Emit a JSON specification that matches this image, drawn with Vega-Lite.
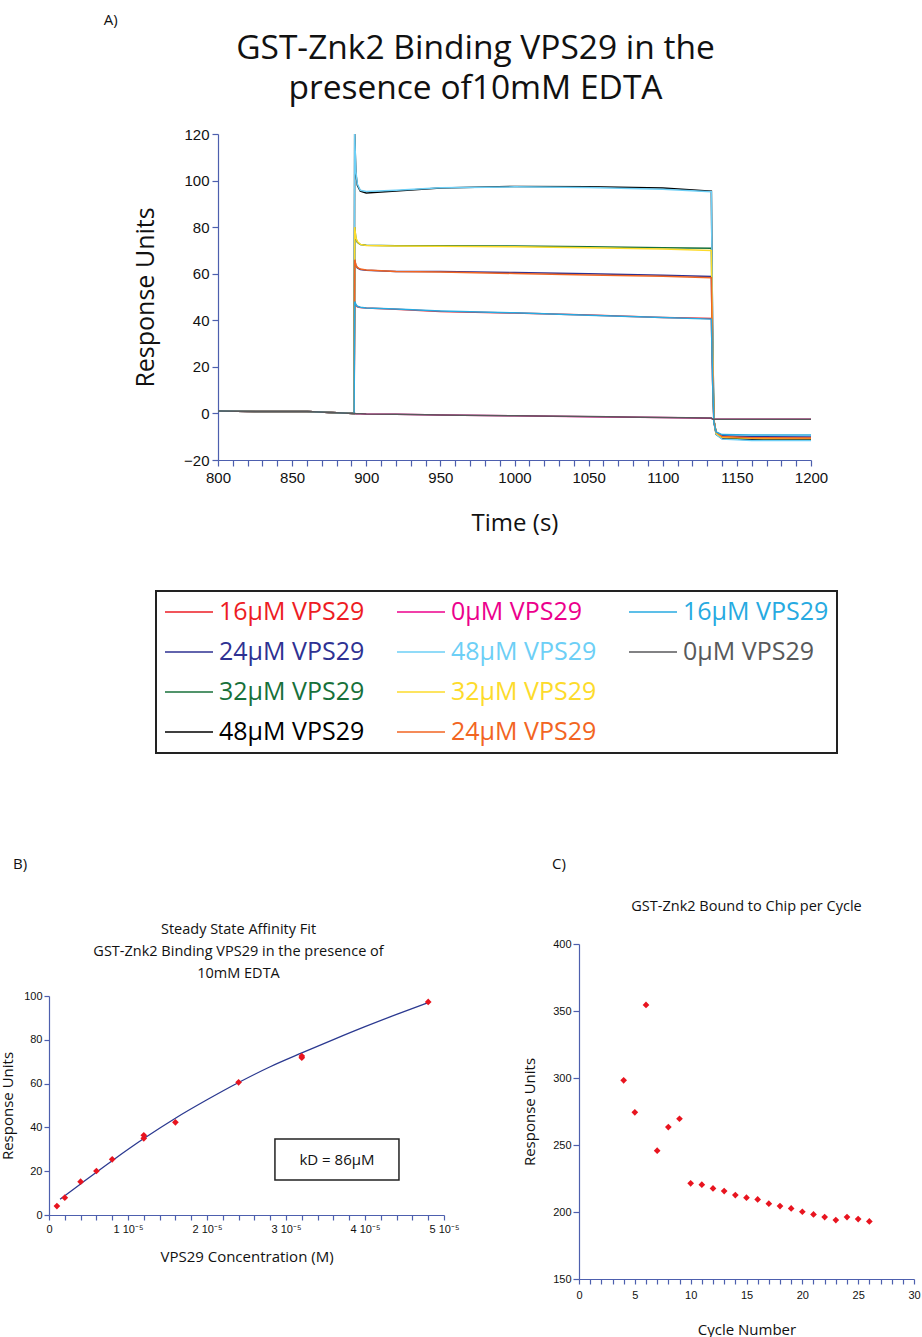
{
  "$schema": "https://vega.github.io/schema/vega-lite/v6.json",
  "padding": {"left": 0, "top": 12, "right": 0, "bottom": 0},
  "config": {
    "view": {"stroke": null},
    "font": "Open Sans",
    "axis": {"domainColor": "#4d5fae", "tickColor": "#4d5fae", "grid": false, "labelFont": "Liberation Sans", "labelColor": "#111", "titleFont": "Open Sans", "titleFontWeight": "normal", "titleColor": "#111", "domainWidth": 1.2, "tickWidth": 1.2, "labelFlush": false, "labelOverlap": false, "labelBound": false},
    "title": {"font": "Open Sans", "fontWeight": "normal", "color": "#111"}
  },
  "title": {"text": "A)", "anchor": "start", "frame": "bounds", "dx": 103, "fontSize": 15, "offset": 4},
  "datasets": {
    "sensor": [
      {"s":"a16","t":800,"v":1},{"s":"a16","t":830,"v":0.8},{"s":"a16","t":860,"v":0.8},{"s":"a16","t":880,"v":0.3},{"s":"a16","t":891.8,"v":0},{"s":"a16","t":892.2,"v":48},{"s":"a16","t":893,"v":46.5},{"s":"a16","t":894,"v":45.8},{"s":"a16","t":896,"v":45.5},{"s":"a16","t":900,"v":45.3},{"s":"a16","t":920,"v":44.7},{"s":"a16","t":950,"v":43.8},{"s":"a16","t":1000,"v":43.1},{"s":"a16","t":1050,"v":42.3},{"s":"a16","t":1100,"v":41.2},{"s":"a16","t":1132.8,"v":40.8},{"s":"a16","t":1133.6,"v":14},{"s":"a16","t":1134.5,"v":-4},{"s":"a16","t":1136,"v":-8.5},{"s":"a16","t":1140,"v":-10},{"s":"a16","t":1160,"v":-10.5},{"s":"a16","t":1200,"v":-10.6},
      {"s":"b24","t":800,"v":1},{"s":"b24","t":830,"v":0.8},{"s":"b24","t":860,"v":0.8},{"s":"b24","t":880,"v":0.3},{"s":"b24","t":891.8,"v":0},{"s":"b24","t":892.2,"v":66},{"s":"b24","t":893,"v":63.5},{"s":"b24","t":894,"v":62.5},{"s":"b24","t":896,"v":61.8},{"s":"b24","t":900,"v":61.5},{"s":"b24","t":920,"v":61},{"s":"b24","t":950,"v":60.9},{"s":"b24","t":1000,"v":60.5},{"s":"b24","t":1050,"v":60},{"s":"b24","t":1100,"v":59.3},{"s":"b24","t":1132.8,"v":58.8},{"s":"b24","t":1133.6,"v":22},{"s":"b24","t":1134.5,"v":-3},{"s":"b24","t":1136,"v":-8},{"s":"b24","t":1140,"v":-9.6},{"s":"b24","t":1160,"v":-10},{"s":"b24","t":1200,"v":-10.1},
      {"s":"c32","t":800,"v":1},{"s":"c32","t":830,"v":0.8},{"s":"c32","t":860,"v":0.8},{"s":"c32","t":880,"v":0.3},{"s":"c32","t":891.8,"v":0},{"s":"c32","t":892.2,"v":80},{"s":"c32","t":893,"v":75},{"s":"c32","t":894,"v":73.5},{"s":"c32","t":896,"v":72.5},{"s":"c32","t":900,"v":72.2},{"s":"c32","t":920,"v":72},{"s":"c32","t":950,"v":72},{"s":"c32","t":1000,"v":71.9},{"s":"c32","t":1050,"v":71.6},{"s":"c32","t":1100,"v":71.2},{"s":"c32","t":1132.8,"v":70.9},{"s":"c32","t":1133.6,"v":27},{"s":"c32","t":1134.5,"v":-3},{"s":"c32","t":1136,"v":-8.5},{"s":"c32","t":1140,"v":-10.4},{"s":"c32","t":1160,"v":-10.9},{"s":"c32","t":1200,"v":-11},
      {"s":"d48","t":800,"v":1},{"s":"d48","t":830,"v":0.8},{"s":"d48","t":860,"v":0.8},{"s":"d48","t":880,"v":0.3},{"s":"d48","t":891.8,"v":0},{"s":"d48","t":892.2,"v":120},{"s":"d48","t":893,"v":103},{"s":"d48","t":894,"v":98},{"s":"d48","t":896,"v":95.5},{"s":"d48","t":900,"v":94.7},{"s":"d48","t":920,"v":95.5},{"s":"d48","t":950,"v":96.8},{"s":"d48","t":1000,"v":97.5},{"s":"d48","t":1050,"v":97.4},{"s":"d48","t":1100,"v":96.8},{"s":"d48","t":1132.8,"v":95.4},{"s":"d48","t":1133.6,"v":38},{"s":"d48","t":1134.5,"v":-3},{"s":"d48","t":1136,"v":-9},{"s":"d48","t":1140,"v":-10.8},{"s":"d48","t":1160,"v":-11.3},{"s":"d48","t":1200,"v":-11.3},
      {"s":"e0","t":800,"v":1},{"s":"e0","t":830,"v":0.8},{"s":"e0","t":860,"v":0.8},{"s":"e0","t":880,"v":0.3},{"s":"e0","t":891.8,"v":0},{"s":"e0","t":892.2,"v":0},{"s":"e0","t":893,"v":-0.1},{"s":"e0","t":894,"v":-0.1},{"s":"e0","t":896,"v":-0.1},{"s":"e0","t":900,"v":-0.2},{"s":"e0","t":920,"v":-0.4},{"s":"e0","t":950,"v":-0.7},{"s":"e0","t":1000,"v":-1},{"s":"e0","t":1050,"v":-1.4},{"s":"e0","t":1100,"v":-1.8},{"s":"e0","t":1132.8,"v":-2.1},{"s":"e0","t":1133.6,"v":-2.4},{"s":"e0","t":1134.5,"v":-2.5},{"s":"e0","t":1136,"v":-2.5},{"s":"e0","t":1140,"v":-2.5},{"s":"e0","t":1160,"v":-2.5},{"s":"e0","t":1200,"v":-2.5},
      {"s":"f48","t":800,"v":1},{"s":"f48","t":830,"v":0.8},{"s":"f48","t":860,"v":0.8},{"s":"f48","t":880,"v":0.3},{"s":"f48","t":891.8,"v":0},{"s":"f48","t":892.2,"v":120},{"s":"f48","t":893,"v":104},{"s":"f48","t":894,"v":98.5},{"s":"f48","t":896,"v":95.8},{"s":"f48","t":900,"v":95.3},{"s":"f48","t":920,"v":95.8},{"s":"f48","t":950,"v":96.9},{"s":"f48","t":1000,"v":97.3},{"s":"f48","t":1050,"v":97},{"s":"f48","t":1100,"v":96.3},{"s":"f48","t":1132.8,"v":95.2},{"s":"f48","t":1133.6,"v":38},{"s":"f48","t":1134.5,"v":-3},{"s":"f48","t":1136,"v":-9},{"s":"f48","t":1140,"v":-11},{"s":"f48","t":1160,"v":-11.6},{"s":"f48","t":1200,"v":-11.6},
      {"s":"g32","t":800,"v":1},{"s":"g32","t":830,"v":0.8},{"s":"g32","t":860,"v":0.8},{"s":"g32","t":880,"v":0.3},{"s":"g32","t":891.8,"v":0},{"s":"g32","t":892.2,"v":80},{"s":"g32","t":893,"v":75.5},{"s":"g32","t":894,"v":73.8},{"s":"g32","t":896,"v":72.6},{"s":"g32","t":900,"v":72.1},{"s":"g32","t":920,"v":71.9},{"s":"g32","t":950,"v":71.8},{"s":"g32","t":1000,"v":71.6},{"s":"g32","t":1050,"v":71.2},{"s":"g32","t":1100,"v":70.6},{"s":"g32","t":1132.8,"v":70},{"s":"g32","t":1133.6,"v":27},{"s":"g32","t":1134.5,"v":-3},{"s":"g32","t":1136,"v":-8.5},{"s":"g32","t":1140,"v":-10.2},{"s":"g32","t":1160,"v":-10.7},{"s":"g32","t":1200,"v":-10.8},
      {"s":"h24","t":800,"v":1},{"s":"h24","t":830,"v":0.8},{"s":"h24","t":860,"v":0.8},{"s":"h24","t":880,"v":0.3},{"s":"h24","t":891.8,"v":0},{"s":"h24","t":892.2,"v":66},{"s":"h24","t":893,"v":63.8},{"s":"h24","t":894,"v":62.7},{"s":"h24","t":896,"v":62},{"s":"h24","t":900,"v":61.6},{"s":"h24","t":920,"v":61},{"s":"h24","t":950,"v":60.7},{"s":"h24","t":1000,"v":60.1},{"s":"h24","t":1050,"v":59.5},{"s":"h24","t":1100,"v":58.9},{"s":"h24","t":1132.8,"v":58.3},{"s":"h24","t":1133.6,"v":22},{"s":"h24","t":1134.5,"v":-3},{"s":"h24","t":1136,"v":-8},{"s":"h24","t":1140,"v":-9.9},{"s":"h24","t":1160,"v":-10.4},{"s":"h24","t":1200,"v":-10.5},
      {"s":"i16","t":800,"v":1},{"s":"i16","t":830,"v":0.8},{"s":"i16","t":860,"v":0.8},{"s":"i16","t":880,"v":0.3},{"s":"i16","t":891.8,"v":0},{"s":"i16","t":892.2,"v":48},{"s":"i16","t":893,"v":46.8},{"s":"i16","t":894,"v":46},{"s":"i16","t":896,"v":45.6},{"s":"i16","t":900,"v":45.3},{"s":"i16","t":920,"v":44.8},{"s":"i16","t":950,"v":44},{"s":"i16","t":1000,"v":43.2},{"s":"i16","t":1050,"v":42.2},{"s":"i16","t":1100,"v":41.2},{"s":"i16","t":1132.8,"v":40.5},{"s":"i16","t":1133.6,"v":14},{"s":"i16","t":1134.5,"v":-4},{"s":"i16","t":1136,"v":-8},{"s":"i16","t":1140,"v":-9.1},{"s":"i16","t":1160,"v":-9.3},{"s":"i16","t":1200,"v":-9.3},
      {"s":"j0","t":800,"v":1},{"s":"j0","t":830,"v":0.8},{"s":"j0","t":860,"v":0.8},{"s":"j0","t":880,"v":0.3},{"s":"j0","t":891.8,"v":0},{"s":"j0","t":892.2,"v":0},{"s":"j0","t":893,"v":-0.1},{"s":"j0","t":894,"v":-0.1},{"s":"j0","t":896,"v":-0.1},{"s":"j0","t":900,"v":-0.2},{"s":"j0","t":920,"v":-0.4},{"s":"j0","t":950,"v":-0.7},{"s":"j0","t":1000,"v":-1},{"s":"j0","t":1050,"v":-1.3},{"s":"j0","t":1100,"v":-1.7},{"s":"j0","t":1132.8,"v":-2},{"s":"j0","t":1133.6,"v":-2.4},{"s":"j0","t":1134.5,"v":-2.5},{"s":"j0","t":1136,"v":-2.5},{"s":"j0","t":1140,"v":-2.5},{"s":"j0","t":1160,"v":-2.5},{"s":"j0","t":1200,"v":-2.5}
    ],
    "fit": [
      {"c_uM":1.4,"r":7.2},{"c_uM":4,"r":14.2},{"c_uM":8,"r":24.8},{"c_uM":12,"r":34.9},{"c_uM":16,"r":44.2},{"c_uM":20,"r":52.6},{"c_uM":24,"r":60.5},{"c_uM":28,"r":67.7},{"c_uM":32,"r":74},{"c_uM":36,"r":80.1},{"c_uM":40,"r":86},{"c_uM":44,"r":91.6},{"c_uM":48,"r":97}
    ],
    "pts": [
      {"c_uM":1,"r":4.1},{"c_uM":2,"r":7.9},{"c_uM":4,"r":15.2},{"c_uM":6,"r":20.1},{"c_uM":8,"r":25.4},{"c_uM":12,"r":35},{"c_uM":12,"r":36.4},{"c_uM":16,"r":42.3},{"c_uM":24,"r":60.6},{"c_uM":32,"r":71.8},{"c_uM":32,"r":72.6},{"c_uM":48,"r":97.3}
    ],
    "note": [
      {"c1":28.6,"c2":44.3,"r1":16,"r2":34.7,"cm":36.45,"rm":25.3,"label":"kD = 86µM"}
    ],
    "cycles": [
      {"n":4,"ru":298.3},{"n":5,"ru":274.4},{"n":6,"ru":354.5},{"n":7,"ru":245.8},{"n":8,"ru":263.4},{"n":9,"ru":269.6},{"n":10,"ru":221.4},{"n":11,"ru":220.4},{"n":12,"ru":217.6},{"n":13,"ru":215.6},{"n":14,"ru":212.6},{"n":15,"ru":210.7},{"n":16,"ru":209.4},{"n":17,"ru":206.2},{"n":18,"ru":204.4},{"n":19,"ru":202.7},{"n":20,"ru":200.2},{"n":21,"ru":198.2},{"n":22,"ru":196.2},{"n":23,"ru":194},{"n":24,"ru":196.2},{"n":25,"ru":194.7},{"n":26,"ru":193}
    ]
  },
  "spacing": 322,
  "vconcat": [
    {
      "spacing": 0,
      "hconcat": [
        {"width": 84, "height": 1, "data": {"values": []}, "mark": "point"},
        {
          "width": 593,
          "height": 326,
          "title": {"text": ["GST-Znk2 Binding VPS29 in the", "presence of10mM EDTA"], "fontSize": 33.5, "lineHeight": 40, "anchor": "middle", "frame": "group", "dx": -39, "offset": 21},
          "data": {"name": "sensor"},
          "mark": {"type": "line", "strokeWidth": 1.5, "clip": true},
          "encoding": {
            "x": {"field": "t", "type": "quantitative", "title": "Time (s)",
              "scale": {"domain": [800, 1200], "nice": false, "zero": false},
              "axis": {"values": [800,810,820,830,840,850,860,870,880,890,900,910,920,930,940,950,960,970,980,990,1000,1010,1020,1030,1040,1050,1060,1070,1080,1090,1100,1110,1120,1130,1140,1150,1160,1170,1180,1190,1200],
                "labelExpr": "datum.value % 50 == 0 ? datum.label : ''", "format": "d", "labelOverlap": false, "labelFontSize": 15, "tickSize": 6, "labelPadding": 4, "titleFontSize": 24, "titlePadding": 26}},
            "y": {"field": "v", "type": "quantitative", "title": "Response Units",
              "scale": {"domain": [-20, 120], "nice": false},
              "axis": {"values": [-20,0,20,40,60,80,100,120], "labelOverlap": false, "labelFontSize": 15, "tickSize": 6, "labelPadding": 3, "titleFontSize": 25, "titlePadding": 25}},
            "color": {"field": "s", "type": "nominal",
              "scale": {"domain": ["a16","b24","c32","d48","e0","f48","g32","h24","i16","j0","z1","z2"],
                        "range": ["#ed1c24","#2e3192","#17703a","#000000","#ec008c","#6dcff6","#fddb2b","#f26522","#27aae1","#58595b","transparent","transparent"]},
              "legend": {
                "orient": "none", "legendX": 107, "legendY": 457, "title": null, "columns": 3, "direction": "vertical",
                "symbolType": "M-1,0H3", "symbolSize": 576, "symbolStrokeWidth": 1.5,
                "labelFontSize": 25, "labelFont": "Open Sans", "labelOffset": 29, "labelLimit": 300,
                "rowPadding": 14, "columnPadding": 29, "padding": 8,
                "strokeColor": "#222", "fillColor": "white",
                "labelExpr": "indexof(['z1','z2'], datum.value) >= 0 ? '' : substring(datum.value, 1) + 'µM VPS29'",
                "encode": {
                  "labels": {"update": {"fill": {"signal": "['#ed1c24','#2e3192','#17703a','#000000','#ec008c','#6dcff6','#fddb2b','#f26522','#27aae1','#58595b','transparent','transparent'][indexof(['a16','b24','c32','d48','e0','f48','g32','h24','i16','j0','z1','z2'], datum.value)]"}}},
                  "legend": {"update": {"strokeWidth": {"value": 2}}}
                }
              }
            }
          }
        }
      ]
    },
    {
      "spacing": 63,
      "hconcat": [
        {
          "spacing": 36,
          "vconcat": [
            {"width": 395, "height": 1, "title": {"text": "B)", "anchor": "start", "frame": "group", "dx": -36, "fontSize": 15, "offset": 12}, "data": {"values": []}, "mark": "point"},
            {
              "width": 395,
              "height": 219,
              "title": {"text": ["Steady State Affinity Fit", "GST-Znk2 Binding VPS29 in the presence of", "10mM EDTA"], "fontSize": 14.5, "lineHeight": 22, "anchor": "middle", "frame": "group", "dx": -8, "offset": 9},
              "layer": [
                {
                  "data": {"name": "note"},
                  "mark": {"type": "rect", "fill": "white", "stroke": "#222", "strokeWidth": 1.5},
                  "encoding": {
                    "x": {"field": "c1", "type": "quantitative", "title": "VPS29 Concentration (M)",
                      "scale": {"domain": [0, 50], "nice": false},
                      "axis": {"values": [0,2,4,6,8,10,12,14,16,18,20,22,24,26,28,30,32,34,36,38,40,42,44,46,48,50], "tickCount": 100,
                        "labelExpr": "datum.value == 0 ? '0' : (datum.value % 10 == 0 ? (datum.value / 10) + ' 10⁻⁵' : '')",
                        "labelOverlap": false, "labelFontSize": 11, "tickSize": 5, "labelPadding": 3, "titleFontSize": 15, "titlePadding": 15}},
                    "x2": {"field": "c2"},
                    "y": {"field": "r1", "type": "quantitative", "title": "Response Units",
                      "scale": {"domain": [0, 100], "nice": false},
                      "axis": {"values": [0,20,40,60,80,100], "tickCount": 100, "labelOverlap": false, "labelFontSize": 11, "tickSize": 5, "labelPadding": 2, "titleFontSize": 15, "titlePadding": 8}},
                    "y2": {"field": "r2"}
                  }
                },
                {
                  "data": {"name": "note"},
                  "mark": {"type": "text", "fontSize": 15, "font": "Open Sans", "color": "#111"},
                  "encoding": {
                    "x": {"field": "cm", "type": "quantitative", "title": "VPS29 Concentration (M)"},
                    "y": {"field": "rm", "type": "quantitative", "title": "Response Units"},
                    "text": {"field": "label"}
                  }
                },
                {
                  "data": {"name": "fit"},
                  "mark": {"type": "line", "color": "#2b3990", "strokeWidth": 1.3, "interpolate": "monotone"},
                  "encoding": {
                    "x": {"field": "c_uM", "type": "quantitative", "title": "VPS29 Concentration (M)"},
                    "y": {"field": "r", "type": "quantitative", "title": "Response Units"}
                  }
                },
                {
                  "data": {"name": "pts"},
                  "mark": {"type": "point", "shape": "diamond", "filled": true, "color": "#e8141f", "size": 45, "opacity": 1},
                  "encoding": {
                    "x": {"field": "c_uM", "type": "quantitative", "title": "VPS29 Concentration (M)"},
                    "y": {"field": "r", "type": "quantitative", "title": "Response Units"}
                  }
                }
              ]
            }
          ]
        },
        {
          "spacing": 13,
          "vconcat": [
            {"width": 335, "height": 1, "title": {"text": "C)", "anchor": "start", "frame": "group", "dx": -27, "fontSize": 15, "offset": 12}, "data": {"values": []}, "mark": "point"},
            {
              "width": 335,
              "height": 335,
              "title": {"text": "GST-Znk2 Bound to Chip per Cycle", "fontSize": 14.5, "anchor": "middle", "frame": "group", "offset": 24},
              "data": {"name": "cycles"},
              "mark": {"type": "point", "shape": "diamond", "filled": true, "color": "#e8141f", "size": 45, "opacity": 1},
              "encoding": {
                "x": {"field": "n", "type": "quantitative", "title": "Cycle Number",
                  "scale": {"domain": [0, 30], "nice": false},
                  "axis": {"values": [0,1,2,3,4,5,6,7,8,9,10,11,12,13,14,15,16,17,18,19,20,21,22,23,24,25,26,27,28,29,30],
                    "labelExpr": "datum.value % 5 == 0 ? datum.label : ''", "labelOverlap": false, "labelFontSize": 11, "tickSize": 5, "labelPadding": 5, "titleFontSize": 15, "titlePadding": 22}},
                "y": {"field": "ru", "type": "quantitative", "title": "Response Units",
                  "scale": {"domain": [150, 400], "nice": false, "zero": false},
                  "axis": {"values": [150,200,250,300,350,400], "labelOverlap": false, "labelFontSize": 11, "tickSize": 6, "labelPadding": 2, "titleFontSize": 15, "titlePadding": 15}}
              }
            }
          ]
        }
      ]
    }
  ]
}
